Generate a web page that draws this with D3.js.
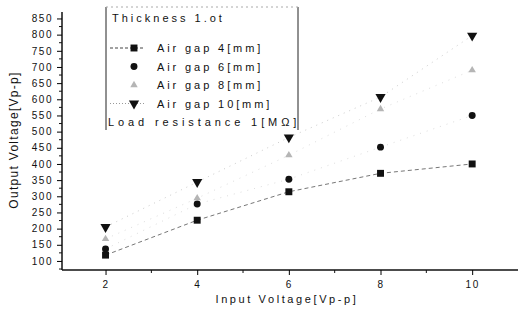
<!DOCTYPE html>
<html>
<head>
<meta charset="utf-8">
<script src="https://cdn.jsdelivr.net/npm/d3@7"></script>
<style>
  body { margin: 0; background: #fff; }
  text { font-family: "Liberation Sans", Arial, sans-serif; fill: #111; }
</style>
</head>
<body>
<svg id="chart" width="518" height="316"></svg>
<script>
var inputVoltage = [2, 4, 6, 8, 10];
var gap4 = [118, 226, 314, 371, 400];
var gap6 = [137, 276, 353, 452, 550];
var gap8 = [168, 294, 427, 570, 690];
var gap10 = [205, 344, 482, 607, 797];
var seriesNames = ["Air gap 4[mm]", "Air gap 6[mm]", "Air gap 8[mm]", "Air gap 10[mm]"];
var yTicks = [100, 150, 200, 250, 300, 350, 400, 450, 500, 550, 600, 650, 700, 750, 800, 850];
var xTicks = [2, 4, 6, 8, 10];

var svg = d3.select("#chart");

var x = d3.scaleLinear().domain([1.05, 11]).range([62, 518]);
var y = d3.scaleLinear().domain([72, 870]).range([270, 12]);

var series = [
  {name: seriesNames[0], values: gap4, symbol: d3.symbolSquare, size: 48, fill: "#111", dash: "4,3", stroke: "#777"},
  {name: seriesNames[1], values: gap6, symbol: d3.symbolCircle, size: 38, fill: "#111", dash: "1,6", stroke: "#ddd"},
  {name: seriesNames[2], values: gap8, symbol: d3.symbolTriangle, size: 24, fill: "#b5b5b5", dash: "1,6", stroke: "#ddd"},
  {name: seriesNames[3], values: gap10, symbol: d3.symbolTriangle, size: 45, fill: "#111", dash: "1,5", stroke: "#ccc", down: true}
];

// axes
var yAxis = d3.axisLeft(y).tickValues(yTicks).tickSize(5).tickPadding(4);
var gy = svg.append("g").attr("transform", "translate(62,0)").call(yAxis);
gy.select(".domain").attr("d", "M0,12V270").attr("stroke", "#111").attr("stroke-width", 1.5);
var yMinor = d3.range(75, 870, 25).filter(function(v) { return v % 50 !== 0; });
gy.selectAll(".minor").data(yMinor).enter().append("line")
    .attr("x1", -3).attr("x2", 0)
    .attr("y1", function(d) { return y(d); }).attr("y2", function(d) { return y(d); })
    .attr("stroke", "#111");

var xAxis = d3.axisBottom(x).tickValues(xTicks).tickSize(5).tickPadding(6);
var gx = svg.append("g").attr("transform", "translate(0,270)").call(xAxis);
gx.select(".domain").attr("d", "M62,0H518").attr("stroke", "#111").attr("stroke-width", 1.5);
gx.selectAll(".minor").data([3, 5, 7, 9]).enter().append("line")
    .attr("x1", function(d) { return x(d); }).attr("x2", function(d) { return x(d); })
    .attr("y1", 0).attr("y2", 3)
    .attr("stroke", "#111");

svg.selectAll(".tick text")
    .style("font-size", "10px")
    .style("letter-spacing", "1.5px")
    .style("font-family", "'Liberation Sans', Arial, sans-serif")
    .attr("fill", "#111");

svg.append("text")
    .attr("x", 287).attr("y", 303)
    .attr("text-anchor", "middle")
    .style("font-size", "11px").style("letter-spacing", "2.6px")
    .text("Input Voltage[Vp-p]");

svg.append("text")
    .attr("transform", "translate(18,140) rotate(-90)")
    .attr("text-anchor", "middle")
    .style("font-size", "12px").style("letter-spacing", "1.3px")
    .text("Output Voltage[Vp-p]");

// lines + markers
var line = d3.line()
    .x(function(d, i) { return x(inputVoltage[i]); })
    .y(function(d) { return y(d); });

series.forEach(function(s) {
  svg.append("path")
      .attr("d", line(s.values))
      .attr("fill", "none")
      .attr("stroke", s.stroke)
      .attr("stroke-width", 1)
      .attr("stroke-dasharray", s.dash);
});

function marker(sel, s) {
  sel.attr("d", d3.symbol().type(s.symbol).size(s.size))
     .attr("fill", s.fill);
}

series.forEach(function(s) {
  svg.selectAll(null).data(s.values).enter().append("path")
      .attr("transform", function(d, i) {
        return "translate(" + x(inputVoltage[i]) + "," + y(d) + ")" + (s.down ? " rotate(180)" : "");
      })
      .call(marker, s);
});

// legend
var lg = svg.append("g");
lg.append("line").attr("x1", 106).attr("x2", 106).attr("y1", 7).attr("y2", 130).attr("stroke", "#222");
lg.append("line").attr("x1", 298).attr("x2", 298).attr("y1", 7).attr("y2", 130).attr("stroke", "#222");
lg.append("line").attr("x1", 106).attr("x2", 298).attr("y1", 7).attr("y2", 7)
    .attr("stroke", "#aaa").attr("stroke-dasharray", "2,3");

lg.append("text").attr("x", 112).attr("y", 22)
    .style("font-size", "11px").style("letter-spacing", "3px")
    .text("Thickness 1.ot");

series.forEach(function(s, i) {
  var ly = 48 + i * 18.5;
  if (i === 0 || i === 3) {
    lg.append("line").attr("x1", 110).attr("x2", 145).attr("y1", ly).attr("y2", ly)
        .attr("stroke", i === 0 ? "#444" : "#999")
        .attr("stroke-dasharray", i === 0 ? "3,2" : "1,2");
  }
  lg.append("path")
      .attr("transform", "translate(134," + ly + ")" + (s.down ? " rotate(180)" : ""))
      .call(marker, s);
  lg.append("text").attr("x", 157).attr("y", ly + 4)
      .style("font-size", "11px").style("letter-spacing", "2.9px")
      .text(s.name);
});

lg.append("text").attr("x", 108).attr("y", 126)
    .style("font-size", "11px").style("letter-spacing", "3.9px")
    .text("Load resistance 1[M\u03A9]");
</script>
</body>
</html>
